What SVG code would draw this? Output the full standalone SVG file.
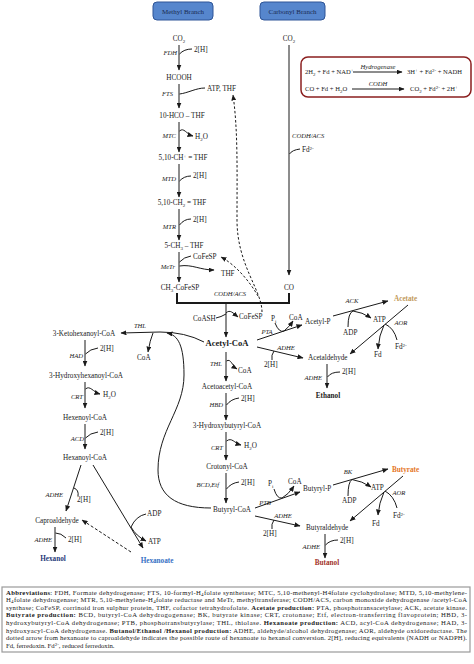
<svg xmlns="http://www.w3.org/2000/svg" width="474" height="664" viewBox="0 0 474 664">
<defs>
<marker id="ah" markerWidth="6" markerHeight="5" refX="5.5" refY="2.5" orient="auto" markerUnits="userSpaceOnUse"><path d="M0,0 L6,2.5 L0,5 z" fill="#1a1a1a"/></marker>
<style>
text{font-family:"Liberation Serif","Times New Roman",serif;font-size:7.2px;fill:#1a1a1a}
.m{text-anchor:middle}
.e{text-anchor:end}
.i{font-style:italic;font-size:6.6px}
.b{font-weight:bold}
.s{font-size:5px}
.ln{stroke:#1a1a1a;stroke-width:1;fill:none}
.arr{marker-end:url(#ah)}
.dash{stroke-dasharray:2.5,2}
.hd{font-size:7px;fill:#1b2b52}
.rx{font-size:6.6px}
.ab{font-size:6.7px}
</style>
</defs>
<rect width="474" height="664" fill="#fff"/>

<g id="methyl-branch"><rect x="153" y="2" width="60" height="18" rx="4" fill="#5686cd" stroke="#2e5597"/><text x="183" y="13.5" class="m hd">Methyl Branch</text></g>
<g id="carbonyl-branch"><rect x="260" y="2" width="65" height="18" rx="4" fill="#5686cd" stroke="#2e5597"/><text x="292.5" y="13.5" class="m hd">Carbonyl Branch</text></g>

<g id="reaction-box">
<rect x="301" y="57" width="170" height="40" rx="7" fill="#fff" stroke="#8b1f1f" stroke-width="1.5"/>
<text x="305" y="74" class="rx">2H<tspan class="s" dy="1.6">2</tspan><tspan dy="-1.6"> + Fd + NAD</tspan><tspan class="s" dy="-2.5">+</tspan></text>
<text x="378" y="69" class="m i">Hydrogenase</text>
<text x="407" y="74" class="rx">3H<tspan class="s" dy="-2.5">+</tspan><tspan dy="2.5"> + Fd</tspan><tspan class="s" dy="-2.5">2-</tspan><tspan dy="2.5"> + NADH</tspan></text>
<text x="305" y="91" class="rx">CO + Fd + H<tspan class="s" dy="1.6">2</tspan><tspan dy="-1.6">O</tspan></text>
<text x="378" y="86" class="m i">CODH</text>
<text x="410" y="91" class="rx">CO<tspan class="s" dy="1.6">2</tspan><tspan dy="-1.6"> + Fd</tspan><tspan class="s" dy="-2.5">2-</tspan><tspan dy="2.5"> + 2H</tspan><tspan class="s" dy="-2.5">+</tspan></text>
</g>

<g id="connectors">
<path class="ln arr" d="M179,45 V70"/>
<path class="ln" d="M179.5,54 Q184,49 192,49"/>
<path class="ln arr" d="M179,84 V108"/>
<path class="ln" d="M179.5,94 C188,93 196,88 205,88"/>
<path class="ln arr" d="M179,122 V152"/>
<path class="ln arr" d="M179.5,131 C184,127 186,134 193,136"/>
<path class="ln arr" d="M179,164 V197"/>
<path class="ln" d="M179.5,181 Q184,176 191,176"/>
<path class="ln arr" d="M179,209 V240"/>
<path class="ln" d="M179.5,225 Q184,219 191,219"/>
<path class="ln arr" d="M179,252 V282"/>
<path class="ln" d="M179.5,262 Q184,257 191,256"/>
<path class="ln arr" d="M179.5,266 C192,264 200,270 214,270"/>
<path d="M177,293 V303 H289 V293" stroke="#1a1a1a" stroke-width="2" fill="none"/>
<path class="ln arr" d="M226,303 V337"/>
<path class="ln" d="M216,318 Q221,317 226,314"/>
<path class="ln arr" d="M226,313 C230,309 233,313 238,317"/>
<path class="ln arr" d="M289,45 V275" stroke="#444"/>
<path class="ln" d="M289.5,154 Q292,150 300,149"/>
<path class="ln arr dash" d="M262,312 C262,290 237,265 237,220 C237,170 238,130 233,95"/>
<path class="ln arr dash" d="M258,296 C250,282 236,265 221,257"/>
<path class="ln arr" d="M353,72 H402"/>
<path class="ln arr" d="M352,89 H404"/>
<path class="ln arr" d="M226.5,361 C231,358 232,366 237,369"/>
<path class="ln arr" d="M226,352 V381"/>
<path class="ln" d="M226.5,405 Q231,399 239,398"/>
<path class="ln arr" d="M226,393 V420"/>
<path class="ln arr" d="M226.5,441 C232,437 234,443 241,445"/>
<path class="ln arr" d="M226,432 V460"/>
<path class="ln" d="M226.5,489 Q231,483 239,482"/>
<path class="ln arr" d="M226,473 V503"/>
<path class="ln arr" d="M257,340 L302,325"/>
<path class="ln arr" d="M275,323 Q279,333 284,331 Q289,327 293,321"/>
<path class="ln arr" d="M333,316 L388,301"/>
<path class="ln arr" d="M348,327 Q348,313 353,311 Q362,312 371,318"/>
<path class="ln arr" d="M408,305 L350,354"/>
<path class="ln arr" d="M384,325 Q379,335 378,349"/>
<path class="ln" d="M385,324 Q394,328 397,340"/>
<path class="ln arr" d="M257,347 L303,358"/>
<path class="ln" d="M274,351 Q271,355 272,360"/>
<path class="ln arr" d="M327,364 V388"/>
<path class="ln" d="M327.5,377 Q331,372 340,372"/>
<path class="ln arr" d="M255,508 L300,492"/>
<path class="ln arr" d="M274,489 Q277,499 282,498 Q288,495 294,486"/>
<path class="ln arr" d="M333,485 L388,469"/>
<path class="ln arr" d="M348,496 Q348,482 352,479.5 Q362,481 371,487"/>
<path class="ln arr" d="M403,476 L350,521"/>
<path class="ln arr" d="M384,492 Q379,503 378,515"/>
<path class="ln" d="M385,491 Q394,496 397,508"/>
<path class="ln arr" d="M255,516 L300,526"/>
<path class="ln" d="M274,520 Q271,524 272,529"/>
<path class="ln arr" d="M325,534 V558"/>
<path class="ln" d="M325.5,545 Q330,540 338,540"/>
<path class="ln arr" d="M204,342 Q185,332 160,332 L121,333"/>
<path class="ln arr" d="M153,333 Q150,340 148,352"/>
<path class="ln arr" d="M211,508 C175,508 158,495 158,470 C158,430 184,410 184,375 C184,345 178,335 167,333"/>
<path class="ln arr" d="M85,340 V366"/>
<path class="ln" d="M85.5,354 Q90,349 98,348"/>
<path class="ln arr" d="M85,382 V408"/>
<path class="ln arr" d="M85.5,389 C90,385 93,392 100,394"/>
<path class="ln arr" d="M85,424 V449"/>
<path class="ln" d="M85.5,438 Q90,433 98,432"/>
<path class="ln arr" d="M81,465 L66,511"/>
<path class="ln arr" d="M93,465 L143,548"/>
<path class="ln" d="M74,488 Q79,490 78,496"/>
<path class="ln arr" d="M146,514 Q136,516 131,527 Q136,536 146,541"/>
<path class="ln arr" d="M55,527 V552"/>
<path class="ln" d="M55.5,533 Q61,533 66,538"/>
<path class="ln arr" stroke-dasharray="3,2" d="M131,552 L82,520"/>
</g>

<g id="methyl-labels">
<text x="179" y="41" class="m">CO<tspan class="s" dy="1.6">2</tspan></text>
<text x="177" y="55" class="e i">FDH</text>
<text x="194" y="52">2[H]</text>
<text x="179" y="80" class="m">HCOOH</text>
<text x="173" y="96" class="e i">FTS</text>
<text x="207" y="91">ATP, THF</text>
<text x="182" y="118" class="m">10-HCO – THF</text>
<text x="176" y="138" class="e i">MTC</text>
<text x="195" y="139">H<tspan class="s" dy="1.6">2</tspan><tspan dy="-1.6">O</tspan></text>
<text x="183" y="160" class="m">5,10-CH<tspan class="s" dy="-2.5">+</tspan><tspan dy="2.5"> = THF</tspan></text>
<text x="176" y="181" class="e i">MTD</text>
<text x="193" y="178">2[H]</text>
<text x="182" y="205" class="m">5,10-CH<tspan class="s" dy="1.6">2</tspan><tspan dy="-1.6"> = THF</tspan></text>
<text x="176" y="229" class="e i">MTR</text>
<text x="193" y="222">2[H]</text>
<text x="184" y="248" class="m">5-CH<tspan class="s" dy="1.6">3</tspan><tspan dy="-1.6"> – THF</tspan></text>
<text x="175" y="269" class="e i">MeTr</text>
<text x="193" y="259">CoFeSP</text>
<text x="221" y="276">THF</text>
<text x="180" y="290" class="m">CH<tspan class="s" dy="1.6">3</tspan><tspan dy="-1.6">-CoFeSP</tspan></text>
<text x="230" y="296" class="m i">CODH/ACS</text>
<text x="193" y="321">CoASH</text>
<text x="239" y="319">CoFeSP</text>
</g>

<g id="carbonyl-labels">
<text x="289" y="41" class="m">CO<tspan class="s" dy="1.6">2</tspan></text>
<text x="292" y="138" class="i">CODH/ACS</text>
<text x="302" y="152">Fd<tspan class="s" dy="-2.5">2-</tspan></text>
<text x="289" y="290" class="m">CO</text>
</g>

<g id="acetyl-coa"><text x="227" y="346" class="m b" style="font-size:8.6px">Acetyl-CoA</text></g>

<g id="butyryl-chain">
<text x="222" y="366" class="e i">THL</text>
<text x="238" y="373">CoA</text>
<text x="227" y="389" class="m">Acetoacetyl-CoA</text>
<text x="223" y="407" class="e i">HBD</text>
<text x="241" y="401">2[H]</text>
<text x="227" y="428" class="m">3-Hydroxybutyryl-CoA</text>
<text x="223" y="450" class="e i">CRT</text>
<text x="244" y="448">H<tspan class="s" dy="1.6">2</tspan><tspan dy="-1.6">O</tspan></text>
<text x="227" y="469" class="m">Crotonyl-CoA</text>
<text x="219" y="487" class="e i">BCD,Etf</text>
<text x="241" y="485">2[H]</text>
<text x="232" y="512" class="m">Butyryl-CoA</text>
</g>

<g id="acetate-branch">
<text x="267" y="334" class="m i">PTA</text>
<text x="271" y="321">P<tspan class="s" dy="1.6">i</tspan></text>
<text x="289" y="320">CoA</text>
<text x="305" y="324">Acetyl-P</text>
<text x="352" y="303" class="m i">ACK</text>
<text x="343" y="335">ADP</text>
<text x="373" y="322">ATP</text>
<text x="394" y="301" class="b" style="fill:#c29a5c">Acetate</text>
<text x="401" y="325" class="m i">AOR</text>
<text x="374" y="357">Fd</text>
<text x="395" y="349">Fd<tspan class="s" dy="-2.5">2-</tspan></text>
<text x="286" y="350" class="m i">ADHE</text>
<text x="264" y="367">2[H]</text>
<text x="308" y="360">Acetaldehyde</text>
<text x="322" y="380" class="e i">ADHE</text>
<text x="342" y="374">2[H]</text>
<text x="328" y="398" class="m b">Ethanol</text>
</g>

<g id="butyrate-branch">
<text x="265" y="505" class="m i">PTB</text>
<text x="268" y="486">P<tspan class="s" dy="1.6">i</tspan></text>
<text x="288" y="484">CoA</text>
<text x="303" y="491">Butyryl-P</text>
<text x="348" y="474" class="m i">BK</text>
<text x="342" y="503">ADP</text>
<text x="371" y="490">ATP</text>
<text x="392" y="472" class="b" style="fill:#e5761f">Butyrate</text>
<text x="399" y="495" class="m i">AOR</text>
<text x="372" y="526">Fd</text>
<text x="393" y="518">Fd<tspan class="s" dy="-2.5">2-</tspan></text>
<text x="283" y="518" class="m i">ADHE</text>
<text x="263" y="536">2[H]</text>
<text x="306" y="530">Butyraldehyde</text>
<text x="320" y="549" class="e i">ADHE</text>
<text x="340" y="543">2[H]</text>
<text x="327" y="565" class="m b" style="fill:#a23229">Butanol</text>
</g>

<g id="hexanoate-branch">
<text x="140" y="328" class="m i">THL</text>
<text x="137" y="360">CoA</text>
<text x="84" y="336" class="m">3-Ketohexanoyl-CoA</text>
<text x="83" y="358" class="e i">HAD</text>
<text x="100" y="351">2[H]</text>
<text x="86" y="378" class="m">3-Hydroxyhexanoyl-CoA</text>
<text x="83" y="399" class="e i">CRT</text>
<text x="103" y="397">H<tspan class="s" dy="1.6">2</tspan><tspan dy="-1.6">O</tspan></text>
<text x="85" y="420" class="m">Hexenoyl-CoA</text>
<text x="84" y="441" class="e i">ACD</text>
<text x="100" y="435">2[H]</text>
<text x="85" y="460" class="m">Hexanoyl-CoA</text>
<text x="63" y="497" class="e i">ADHE</text>
<text x="77" y="502">2[H]</text>
<text x="147" y="516">ADP</text>
<text x="148" y="544">ATP</text>
<text x="57" y="523" class="m">Caproaldehyde</text>
<text x="52" y="542" class="e i">ADHE</text>
<text x="68" y="542">2[H]</text>
<text x="53" y="561" class="m b" style="fill:#1f3a7a">Hexanol</text>
<text x="157" y="563" class="m b" style="fill:#3670c4">Hexanoate</text>
</g>

<g id="abbreviations">
<rect x="2" y="587" width="468" height="65" fill="#fff" stroke="#9a9a9a" stroke-width="1.2"/>
<text x="6" y="594.5" class="ab" textLength="461" lengthAdjust="spacing"><tspan class="b">Abbreviations</tspan>: FDH, Formate dehydrogenase; FTS, 10-formyl-H<tspan class="s" dy="1.2">4</tspan><tspan dy="-1.2">folate synthetase; MTC, 5,10-methenyl-H4folate cyclohydrolase; MTD, 5,10-methylene-</tspan></text>
<text x="6" y="602.1" class="ab" textLength="461" lengthAdjust="spacing">H<tspan class="s" dy="1.2">4</tspan><tspan dy="-1.2">folate dehydrogenase; MTR, 5,10-methylene-H</tspan><tspan class="s" dy="1.2">4</tspan><tspan dy="-1.2">folate reductase and MeTr, methyltransferase; CODH/ACS, carbon monoxide dehydrogenase /acetyl-CoA</tspan></text>
<text x="6" y="609.7" class="ab" textLength="461" lengthAdjust="spacing">synthase; CoFeSP, corrinoid iron sulphur protein, THF, cofactor tetrahydrofolate. <tspan class="b">Acetate production:</tspan> PTA, phosphotransacetylase; ACK, acetate kinase.</text>
<text x="6" y="617.3" class="ab" textLength="461" lengthAdjust="spacing"><tspan class="b">Butyrate production:</tspan> BCD, butyryl-CoA dehydrogogenase; BK, butyrate kinase; CRT, crotonase; Etf, electron-transferring flavoprotein; HBD, 3-</text>
<text x="6" y="624.9" class="ab" textLength="461" lengthAdjust="spacing">hydroxybutyryl-CoA dehydrogenase; PTB, phosphotransbutyrylase; THL, thiolase. <tspan class="b">Hexanoate production:</tspan> ACD, acyl-CoA dehydrogenase; HAD, 3-</text>
<text x="6" y="632.5" class="ab" textLength="461" lengthAdjust="spacing">hydroxyacyl-CoA dehydrogenase. <tspan class="b">Butanol/Ethanol /Hexanol production:</tspan> ADHE, aldehyde/alcohol dehydrogenase; AOR, aldehyde oxidoreductase. The</text>
<text x="6" y="640.1" class="ab" textLength="461" lengthAdjust="spacing">dotted arrow from hexanoate to caproaldehyde indicates the possible route of hexanoate to hexanol conversion. 2[H], reducing equivalents (NADH or NADPH).</text>
<text x="6" y="647.7" class="ab">Fd, ferredoxin. Fd<tspan class="s" dy="-2.2">2-</tspan><tspan dy="2.2">, reduced ferredoxin.</tspan></text>
</g>
</svg>
